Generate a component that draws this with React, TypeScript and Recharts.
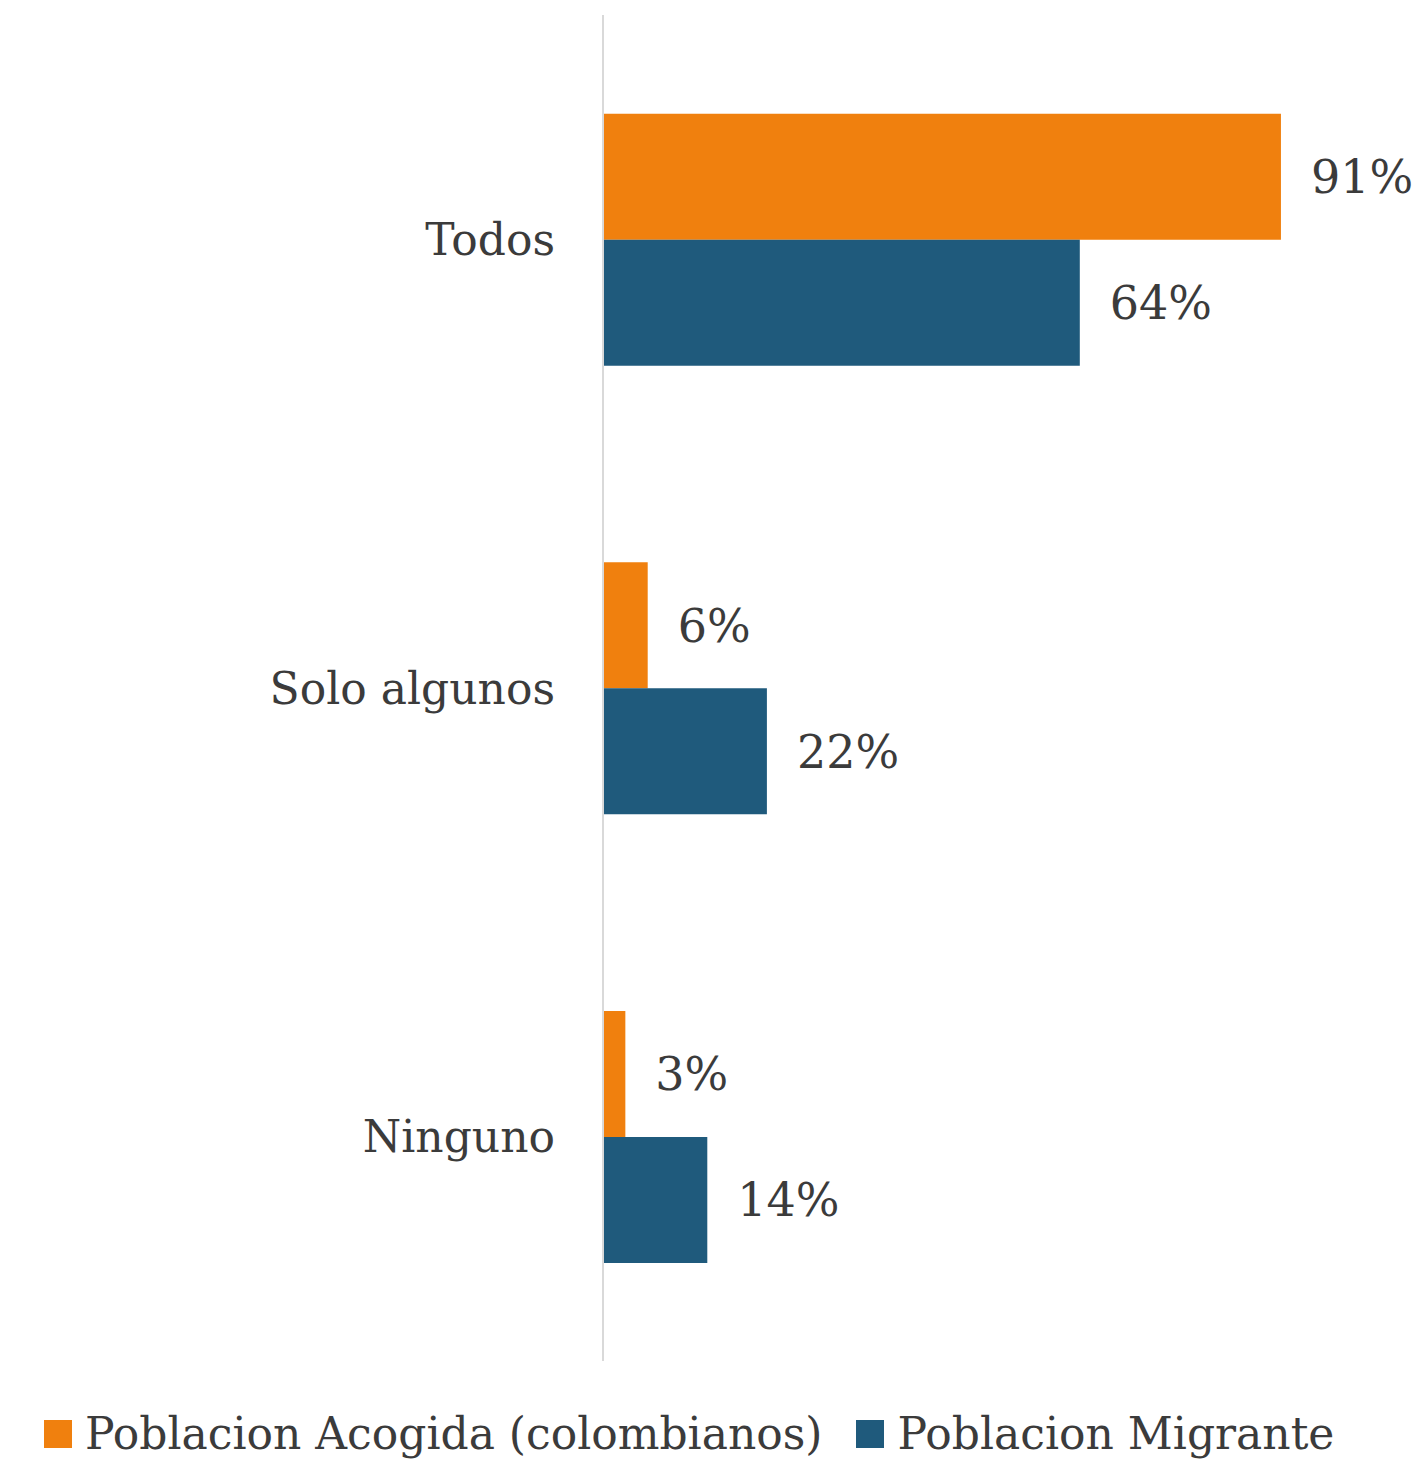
import React from 'react';
import { BarChart, Bar, XAxis, YAxis, LabelList, Legend } from 'recharts';

const categories = ['Todos', 'Solo algunos', 'Ninguno'];
const acogida = [91, 6, 3];
const migrante = [64, 22, 14];

const ORANGE = '#F0800E';
const BLUE = '#1F5A7C';
const TEXT = '#3b3b3b';
const FONT = '"DejaVu Serif", serif';

const data = categories.map((c, i) => ({
  name: c,
  acogida: acogida[i],
  migrante: migrante[i],
}));

const LegendContent = () => (
  <div style={{ display: 'flex', alignItems: 'center', fontFamily: FONT, fontSize: 44, color: TEXT }}>
    <span style={{ width: 28, height: 28, background: ORANGE, marginRight: 13 }} />
    <span style={{ marginRight: 34 }}>Poblacion Acogida (colombianos)</span>
    <span style={{ width: 28, height: 28, background: BLUE, marginRight: 13 }} />
    <span>Poblacion Migrante</span>
  </div>
);

const App: React.FC = () => {
  return (
    <div style={{ position: 'absolute', left: 0, top: 0, background: '#fff' }}>
      <BarChart
        width={1425}
        height={1465}
        data={data}
        layout="vertical"
        margin={{ top: 15, right: 77, left: 0, bottom: 53 }}
        barCategoryGap="22%"
        barGap={0}
      >
        <XAxis type="number" domain={[0, 100]} hide />
        <YAxis
          type="category"
          dataKey="name"
          width={603}
          tickLine={false}
          tickSize={0}
          tickMargin={48}
          axisLine={{ stroke: '#d9d9d9', strokeWidth: 2 }}
          tick={{ fontFamily: FONT, fontSize: 44, fill: TEXT }}
        />
        <Legend
          verticalAlign="bottom"
          content={<LegendContent />}
          wrapperStyle={{ position: 'absolute', left: 44, top: 1408, width: 'auto' }}
        />
        <Bar dataKey="acogida" fill={ORANGE} isAnimationActive={false}>
          <LabelList
            dataKey="acogida"
            position="right"
            offset={30}
            formatter={(v: number) => `${v}%`}
            style={{ fontFamily: FONT, fontSize: 46, fill: TEXT }}
          />
        </Bar>
        <Bar dataKey="migrante" fill={BLUE} isAnimationActive={false}>
          <LabelList
            dataKey="migrante"
            position="right"
            offset={30}
            formatter={(v: number) => `${v}%`}
            style={{ fontFamily: FONT, fontSize: 46, fill: TEXT }}
          />
        </Bar>
      </BarChart>
    </div>
  );
};

export default App;
